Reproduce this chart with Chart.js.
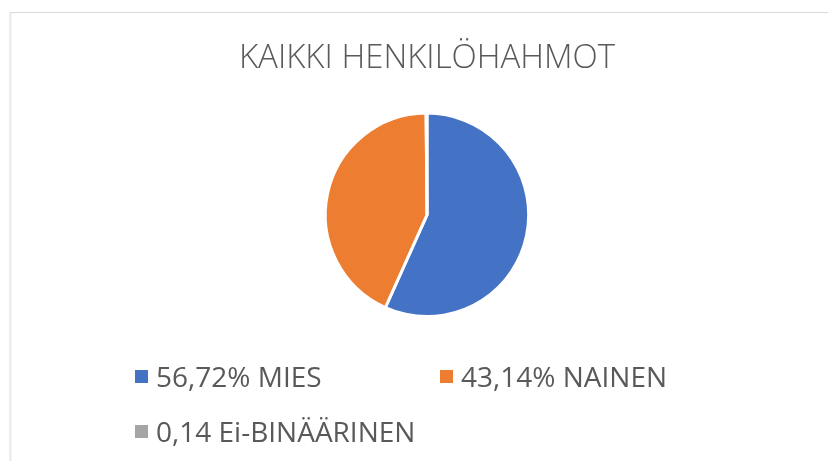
<!DOCTYPE html>
<html>
<head>
<meta charset="utf-8">
<script src="https://cdn.jsdelivr.net/npm/chart.js@4/dist/chart.umd.min.js"></script>
<style>
html,body{margin:0;padding:0;background:#fff;}
#wrap{position:relative;width:828px;height:461px;}
canvas{display:block;}
</style>
</head>
<body>
<div id="wrap"><canvas id="c" width="828" height="461"></canvas></div>
<script>
const titleText = "KAIKKI HENKILÖHAHMOT";
const categories = ["MIES", "NAINEN", "Ei-BINÄÄRINEN"];
const values = [56.72, 43.14, 0.14];
const legendLabels = ["56,72% MIES", "43,14% NAINEN", "0,14 Ei-BINÄÄRINEN"];
const colors = ["#4472C4", "#ED7D31", "#A5A5A5"];

const frameAndLegend = {
  id: 'frameAndLegend',
  beforeDraw(chart) {
    const ctx = chart.ctx;
    ctx.save();
    ctx.fillStyle = '#ffffff';
    ctx.fillRect(0, 0, chart.width, chart.height);
    ctx.strokeStyle = '#d9d9d9';
    ctx.lineWidth = 1;
    ctx.beginPath();
    ctx.moveTo(10, chart.height);
    ctx.lineTo(10, 12.5);
    ctx.lineTo(chart.width, 12.5);
    ctx.stroke();
    ctx.strokeStyle = '#ececec';
    ctx.beginPath();
    ctx.moveTo(11, chart.height);
    ctx.lineTo(11, 13);
    ctx.stroke();
    ctx.restore();
  },
  afterDraw(chart) {
    const ctx = chart.ctx;
    const pos = [[135, 370], [440, 370], [135, 425]];
    ctx.save();
    ctx.font = '400 28px "Open Sans", sans-serif';
    ctx.textBaseline = 'alphabetic';
    const ds = chart.data.datasets[0];
    chart.data.labels.forEach((lab, i) => {
      const [x, y] = pos[i];
      ctx.fillStyle = ds.backgroundColor[i];
      ctx.fillRect(x, y, 13, 13);
      ctx.fillStyle = '#595959';
      ctx.fillText(legendLabels[i], x + 21, y + 16.5);
    });
    ctx.restore();
  }
};

new Chart(document.getElementById('c'), {
  type: 'pie',
  data: {
    labels: categories,
    datasets: [{
      data: values,
      backgroundColor: colors,
      borderColor: '#ffffff',
      borderWidth: 3
    }]
  },
  options: {
    responsive: false,
    animation: false,
    layout: { padding: { top: 0, bottom: 143, left: 26, right: 0 } },
    plugins: {
      legend: { display: false },
      tooltip: { enabled: false },
      title: {
        display: true,
        text: titleText,
        color: '#595959',
        font: { family: '"Open Sans", sans-serif', size: 33, weight: '300' },
        padding: { top: 39, bottom: 33 }
      }
    }
  },
  plugins: [frameAndLegend]
});
</script>
</body>
</html>
